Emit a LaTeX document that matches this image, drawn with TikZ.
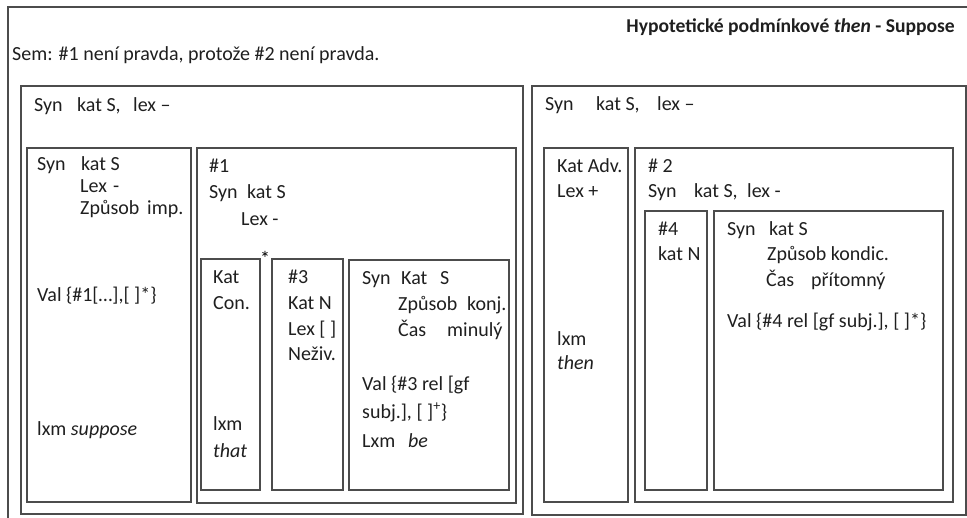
\documentclass[tikz,border=0pt]{standalone}
\usepackage{fontspec}
\setmainfont{Carlito}
\usetikzlibrary{fit}
\begin{document}
\begin{tikzpicture}[x=1pt,y=-1pt,
  frame/.style={draw=black!70, line width=1.4pt, inner sep=0pt, outer sep=0pt},
  txt/.style={anchor=base west, inner sep=0pt, font=\fontsize{20}{24}\selectfont, text=black!88},
  title/.style={anchor=base east, inner sep=0pt, font=\fontsize{19.6}{24}\selectfont\bfseries, text=black!88}]
\useasboundingbox (0,0) rectangle (967,517);
\clip (0,0) rectangle (967,517);

% page frame (runs off the right and bottom edges)
\node[frame, fit={(8,7) (995,545)}] (page) {};

% the two clause boxes
\node[frame, fit={(21,86) (523,514)}] (L) {};
\node[frame, fit={(532,86) (966,515)}] (R) {};

% left clause
\node[frame, fit={(27,148) (191,502)}] (A) {};
\node[frame, fit={(197,148) (516,503)}] (B) {};
\node[frame, fit={(201,259) (260,490)}] (C1) {};
\node[frame, fit={(272,259) (343,490)}] (C2) {};
\node[frame, fit={(349,260) (509,490)}] (C3) {};

% right clause
\node[frame, fit={(544,148) (628,502)}] (E) {};
\node[frame, fit={(635,148) (953,502)}] (F) {};
\node[frame, fit={(645,211) (707,490)}] (G) {};
\node[frame, fit={(714,211) (943,490)}] (H) {};

% heading and meaning
\node[title] (ttl) at (955,32) {Hypotetické podmínkové \textit{then} - Suppose};
\node[txt] (sem) at (12,60) {Sem: \#1 není pravda, protože \#2 není pravda.};

% left clause header
\node[txt] (lsyn) at (34,111) {Syn};
\node[txt] (lkat) at (77,111) {kat S,};
\node[txt] (llex) at (133,111) {lex –};

% box A
\node[txt] (a1) at (37,170) {Syn};
\node[txt] (a1b) at (81,170) {kat S};
\node[txt] (a2) at (80,192) {Lex};
\node[txt] (a2b) at (113,192) {-};
\node[txt] (a3) at (80,214) {Způsob};
\node[txt] (a3b) at (147,214) {imp.};
\node[txt] (a4) at (37,301) {Val \{\#1[…],[ ]*\}};
\node[txt] (a5) at (37,435) {lxm \textit{suppose}};

% box B
\node[txt] (b1) at (209,172) {\#1};
\node[txt] (b2) at (209,198) {Syn};
\node[txt] (b2b) at (247,198) {kat S};
\node[txt] (b3) at (241,225) {Lex -};
\node[anchor=base, inner sep=0pt, font=\fontsize{20}{24}\selectfont] (star) at (265,265) {*};

% box C1
\node[txt] (c11) at (213,283) {Kat};
\node[txt] (c12) at (213,309) {Con.};
\node[txt] (c13) at (213,430) {lxm};
\node[txt] (c14) at (213,457) {\textit{that}};

% box C2
\node[txt] (c21) at (288,283) {\#3};
\node[txt] (c22) at (288,309) {Kat N};
\node[txt] (c23) at (288,335) {Lex [ ]};
\node[txt] (c24) at (288,360) {Neživ.};

% box C3
\node[txt] (c31) at (362,284) {Syn};
\node[txt] (c31b) at (401,284) {Kat};
\node[txt] (c31c) at (440,284) {S};
\node[txt] (c32) at (398,310) {Způsob};
\node[txt] (c32b) at (467,310) {konj.};
\node[txt] (c33) at (398,336) {Čas};
\node[txt] (c33b) at (447,336) {minulý};
\node[txt] (c34) at (362,390) {Val \{\#3 rel [gf};
\node[txt] (c35) at (362,418) {subj.], [ ]\textsuperscript{+}\}};
\node[txt] (c36) at (362,447) {Lxm};
\node[txt] (c36b) at (408,447) {\textit{be}};

% right clause header
\node[txt] (rsyn) at (545,110) {Syn};
\node[txt] (rkat) at (596,110) {kat S,};
\node[txt] (rlex) at (657,110) {lex –};

% box E
\node[txt] (e1) at (557,172) {Kat Adv.};
\node[txt] (e2) at (557,197) {Lex +};
\node[txt] (e3) at (557,345) {lxm};
\node[txt] (e4) at (557,369) {\textit{then}};

% box F
\node[txt] (f1) at (648,172) {\# 2};
\node[txt] (f2) at (648,197) {Syn};
\node[txt] (f2b) at (694,197) {kat S,};
\node[txt] (f2c) at (747,197) {lex -};

% box G
\node[txt] (g1) at (658,235) {\#4};
\node[txt] (g2) at (658,260) {kat N};

% box H
\node[txt] (h1) at (727,235) {Syn};
\node[txt] (h1b) at (769,235) {kat S};
\node[txt] (h2) at (767,260) {Způsob kondic.};
\node[txt] (h3) at (766,286) {Čas};
\node[txt] (h3b) at (811,286) {přítomný};
\node[txt] (h4) at (727,327) {Val \{\#4 rel [gf subj.], [ ]*\}};
\end{tikzpicture}
\end{document}
